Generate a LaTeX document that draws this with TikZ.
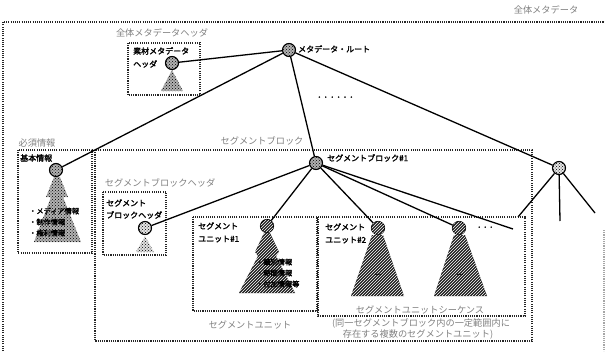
\documentclass[tikz,border=0pt]{standalone}
\usepackage{fontspec}
\setmainfont{Noto Sans CJK JP}
\newfontfamily\jpbold{Noto Sans CJK JP}[FakeBold=2.2]
\usetikzlibrary{patterns}
\begin{document}
\begin{tikzpicture}[x=1pt,y=-1pt,
  box/.style={draw=black!85, line width=1.1pt, dash pattern=on 1.1pt off 1.1pt},
  conn/.style={draw, line width=1.3pt},
  lbl/.style={font=\fontsize{8}{9}\jpbold\selectfont, inner sep=0pt, anchor=west},
  small/.style={font=\fontsize{7.2}{8}\jpbold\selectfont, inner sep=0pt, anchor=west},
  faint/.style={font=\fontsize{9.2}{11}\selectfont, text=black!50, inner sep=0pt},
  circ/.style={circle, draw, line width=1.1pt, minimum size=13pt, inner sep=0pt, fill=black!30, postaction={pattern=crosshatch dots}},
  lcirc/.style={circ, fill=black!10},
  dcirc/.style={circle, draw, line width=1.1pt, minimum size=13pt, inner sep=0pt, fill=black!85, postaction={pattern=north east lines, pattern color=white}},
  dotfill/.style={fill=black!30, postaction={pattern=crosshatch dots}},
  hatch/.style={fill=black!88, postaction={pattern=north east lines, pattern color=white}}
]
\useasboundingbox (0,0) rectangle (605,351);
\clip (0,0) rectangle (605,351);

% dotted frames
\draw[box] (3,351) -- (3,22) -- (605,22);
\draw[box, draw=black!35] (604,230) -- (604,351);
\draw[box] (128,43) rectangle (200,95);
\draw[box] (18,150) rectangle (92,253);
\draw[box] (95,150) rectangle (532,341);
\draw[box] (103,192) rectangle (166,255);
\draw[box] (193,217) rectangle (317,311);
\draw[box] (318,217) rectangle (525,316);

% triangles (subtrees)
\path[dotfill] (172,70) -- (183,91) -- (161,91) -- cycle;
\path[dotfill, fill=black!12] (145,236) -- (154,252) -- (136,252) -- cycle;
\path[dotfill] (54,177) -- (60,177) -- (68,197) -- (63,197) -- (81,242) -- (34,242) -- (51,197) -- (46,197) -- cycle;
\path[hatch] (264,233) -- (270,233) -- (279,252) -- (276,256) -- (295,293) -- (239,293) -- (258,256) -- (255,252) -- cycle;
\path[hatch] (372,235) -- (383,235) -- (404,296) -- (351,296) -- cycle;
\path[hatch] (454,235) -- (465,235) -- (487,296) -- (434,296) -- cycle;

% tree nodes
\node[circ] (root) at (289,50) {};
\node[circ] (sozai) at (172,63) {};
\node[circ] (kihon) at (56,170) {};
\node[lcirc] (sbh) at (145,228) {};
\node[circ] (sb1) at (316,163) {};
\node[dcirc] (su1) at (267,226) {};
\node[dcirc] (su2a) at (378,228) {};
\node[dcirc] (su2b) at (459,228) {};
\node[lcirc] (rt) at (559,168) {};
\coordinate (e1) at (513,229);
\coordinate (r1) at (518,217);
\coordinate (r2) at (560,221);
\coordinate (r3) at (595,213);

% connectors
\draw[conn] (root) -- (sozai);
\draw[conn] (root) -- (kihon);
\draw[conn] (root) -- (sb1);
\draw[conn] (root) -- (rt);
\draw[conn] (sb1) -- (sbh);
\draw[conn] (sb1) -- (su1);
\draw[conn] (sb1) -- (su2a);
\draw[conn] (sb1) -- (su2b);
\draw[conn] (sb1) -- (e1);
\draw[conn] (rt) -- (r1);
\draw[conn] (rt) -- (r2);
\draw[conn] (rt) -- (r3);

% bold labels
\node[lbl] (troot) at (298,49) {メタデータ・ルート};
\node[lbl] (tsb1) at (327,158) {セグメントブロック\#1};
\node[lbl] (tsoz1) at (133,51) {素材メタデータ};
\node[lbl] (tsoz2) at (133,64) {ヘッダ};
\node[lbl] (tkihon) at (20,158) {基本情報};
\node[lbl] (tsbh1) at (106,203) {セグメント};
\node[lbl] (tsbh2) at (106,215) {ブロックヘッダ};
\node[lbl] (tsu1a) at (198,226) {セグメント};
\node[lbl] (tsu1b) at (198,239) {ユニット\#1};
\node[lbl] (tsu2a) at (325,227) {セグメント};
\node[lbl] (tsu2b) at (325,240) {ユニット\#2};

\node[small] (k1) at (29,211) {・メディア情報};
\node[small] (k2) at (29,222) {・制作情報};
\node[small] (k3) at (29,233) {・権利情報};
\node[small] (u1) at (256,262) {・識別情報};
\node[small] (u2) at (256,273) {・時間情報};
\node[small] (u3) at (256,284) {・付加情報等};

\node[font=\fontsize{6.4}{7}\jpbold\selectfont, inner sep=0pt, anchor=west] (dd1) at (316,98) {・・・・・・};
\node[font=\fontsize{6}{7}\jpbold\selectfont, inner sep=0pt, anchor=west] (dd2) at (476,228) {・・・};
\node[font=\fontsize{6}{7}\jpbold\selectfont, inner sep=0pt] (dd3) at (378,275) {-{}-{}-};
\node[font=\fontsize{6}{7}\jpbold\selectfont, inner sep=0pt] (dd4) at (460,275) {-{}-{}-};

% faint labels
\node[faint] (f1) at (546,10) {全体メタデータ};
\node[faint] (f2) at (162,33) {全体メタデータヘッダ};
\node[faint] (f3) at (37,143) {必須情報};
\node[faint] (f4) at (262,141) {セグメントブロック};
\node[faint] (f5) at (160,183) {セグメントブロックヘッダ};
\node[faint] (f6) at (250,325) {セグメントユニット};
\node[faint] (f7) at (420,310) {セグメントユニットシーケンス};
\node[faint] (f8) at (421,323) {(同一セグメントブロック内の一定範囲内に};
\node[faint] (f9) at (418,335) {存在する複数のセグメントユニット)};
\end{tikzpicture}
\end{document}
